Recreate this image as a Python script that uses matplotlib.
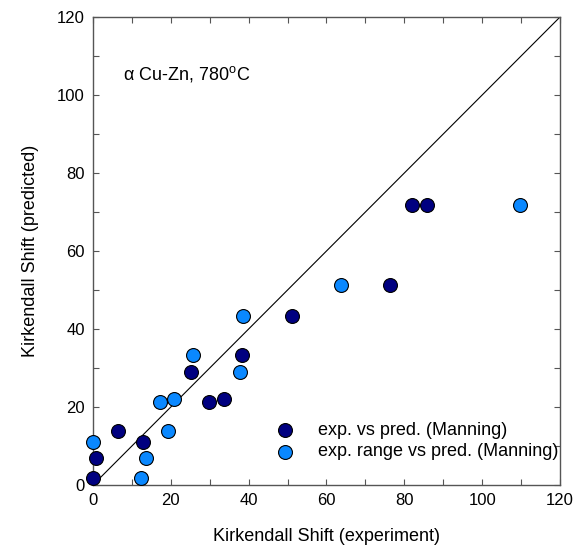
import matplotlib
matplotlib.use('Agg')
import matplotlib.pyplot as plt
from matplotlib.ticker import MultipleLocator

plt.rcParams['font.family'] = ['Liberation Sans', 'DejaVu Sans']
plt.rcParams['mathtext.fontset'] = 'custom'
plt.rcParams['mathtext.rm'] = 'Liberation Sans'

# exp. vs pred. (Manning)
exp_x = [0, 0.8, 6.5, 12.8, 25.2, 29.9, 33.7, 38.4, 51.2, 76.4, 81.9, 85.8]
exp_y = [1.8, 7.0, 13.8, 11.0, 29.1, 21.4, 22.1, 33.4, 43.3, 51.4, 71.8, 71.8]

# exp. range vs pred. (Manning)
rng_x = [0, 12.3, 13.6, 17.2, 19.2, 20.9, 25.7, 37.9, 38.5, 63.7, 109.8]
rng_y = [11.0, 1.8, 7.0, 21.4, 13.8, 22.1, 33.4, 29.1, 43.3, 51.4, 71.8]

fig = plt.figure(figsize=(5.75, 5.51), dpi=100)
ax = fig.add_axes([0.1617, 0.1198, 0.8122, 0.8493])

ax.plot([0, 120], [0, 120], color='black', lw=0.8, zorder=1)
ax.scatter(exp_x, exp_y, s=100, color='#000080', edgecolor='black', lw=0.8,
           zorder=3, clip_on=False, label='exp. vs pred. (Manning)')
ax.scatter(rng_x, rng_y, s=100, color='#0A88FF', edgecolor='black', lw=0.8,
           zorder=3, clip_on=False, label='exp. range vs pred. (Manning)')

ax.set_xlim(0, 120)
ax.set_ylim(0, 120)
ax.xaxis.set_major_locator(MultipleLocator(20))
ax.yaxis.set_major_locator(MultipleLocator(20))
ax.xaxis.set_minor_locator(MultipleLocator(10))
ax.yaxis.set_minor_locator(MultipleLocator(10))
ax.tick_params(which='both', direction='in', top=True, right=True,
               labelsize=12, color='#555555', width=0.8)
ax.tick_params(which='major', length=4, pad=6)
ax.tick_params(which='minor', length=4)
for sp in ax.spines.values():
    sp.set_color('#555555')
    sp.set_linewidth(1.0)

ax.set_xlabel('Kirkendall Shift (experiment)', fontsize=13, labelpad=14)
ax.set_ylabel('Kirkendall Shift (predicted)', fontsize=13, labelpad=13)

ax.text(7.7, 105.5, r'α Cu-Zn, 780$^{\mathrm{o}}$C', fontsize=13, va='center')

ax.legend(loc='upper left', bbox_to_anchor=(0.3726, 0.135), frameon=False,
          fontsize=13, handletextpad=0.8, labelspacing=0.25,
          borderpad=0, borderaxespad=0)

fig.savefig('out.png', dpi=100)
